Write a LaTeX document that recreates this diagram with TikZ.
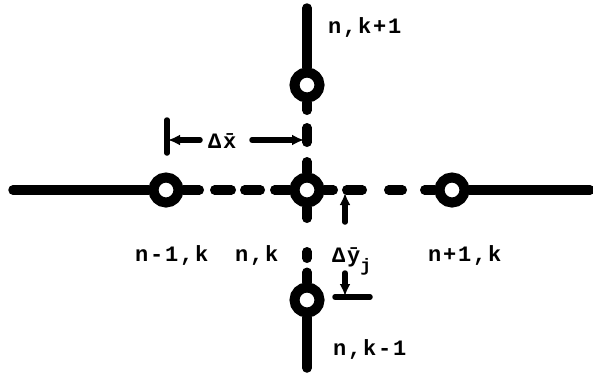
\documentclass[tikz,border=0pt]{standalone}
\usepackage{fontspec}
\newfontfamily\tw[LetterSpace=8]{Liberation Mono}
\usetikzlibrary{arrows.meta}
\begin{document}
\begin{tikzpicture}[x=1pt,y=-1pt,
  ring/.style={circle,draw,fill=white,line width=10pt,minimum size=25pt,inner sep=0pt},
  wire/.style={line width=9.5pt,line cap=round},
  dim/.style={line width=5.5pt,line cap=round},
  dimarrow/.style={dim,-{Latex[length=12pt,width=11pt]}},
  lab/.style={font=\tw\bfseries\fontsize{22}{24}\selectfont,inner sep=0pt,anchor=base west}]
\useasboundingbox (0,0) rectangle (593,375);
% circles
\node[ring] (L) at (166,190) {};
\node[ring] (C) at (307,190) {};
\node[ring] (R) at (452,190) {};
\node[ring] (T) at (307,85) {};
\node[ring] (B) at (307,300) {};
% free ends
\coordinate (le) at (13,190);
\coordinate (re) at (590,190);
\coordinate (te) at (307,8);
\coordinate (be) at (307,368);
% solid lines
\draw[wire] (le) -- (L);
\draw[wire] (R) -- (re);
\draw[wire] (te) -- (T);
\draw[wire] (B) -- (be);
% dashed lines
\draw[wire,dash pattern=on 15.75pt off 15.5pt on 16.5pt off 13.5pt on 15.5pt off 14.5pt on 30pt] (L) -- (C);
\draw[wire,dash pattern=on 8.75pt off 13.5pt on 15.5pt off 26.5pt on 13.5pt off 22.5pt on 30pt] (C) -- (R);
\draw[wire,dash pattern=on 7.75pt off 17.5pt on 14.5pt off 19.5pt on 30pt] (T) -- (C);
\draw[wire,dash pattern=on 10.75pt off 33.5pt on 6.5pt off 14pt on 30pt] (C) -- (B);
% delta x
\coordinate (dxt1) at (167,120);
\coordinate (dxt2) at (167,153);
\draw[dim] (dxt1) -- (dxt2);
\node[lab] (dx) at (208,148) {Δ\={x}};
\coordinate (dxa) at (200,140);
\coordinate (dxl) at (168,140);
\coordinate (dxb) at (252,140);
\coordinate (dxr) at (304,140);
\draw[dimarrow] (dxa) -- (dxl);
\draw[dimarrow] (dxb) -- (dxr);
% delta y
\node[lab] (dy) at (332,262) {Δ\={y}\raisebox{-9pt}{\fontsize{18}{20}\selectfont j}};
\coordinate (dya) at (345,222);
\coordinate (dyt) at (345,193);
\coordinate (dyb) at (345,273);
\coordinate (dyd) at (345,296);
\coordinate (dyk1) at (335,297);
\coordinate (dyk2) at (370,297);
\draw[dimarrow] (dya) -- (dyt);
\draw[dimarrow] (dyb) -- (dyd);
\draw[dim] (dyk1) -- (dyk2);
% labels
\node[lab] (lt) at (328,33) {n,k+1};
\node[lab] (ll) at (135,261) {n-1,k};
\node[lab] (lc) at (235,261) {n,k};
\node[lab] (lr) at (428,261) {n+1,k};
\node[lab] (lb) at (333,355) {n,k-1};
\end{tikzpicture}
\end{document}
